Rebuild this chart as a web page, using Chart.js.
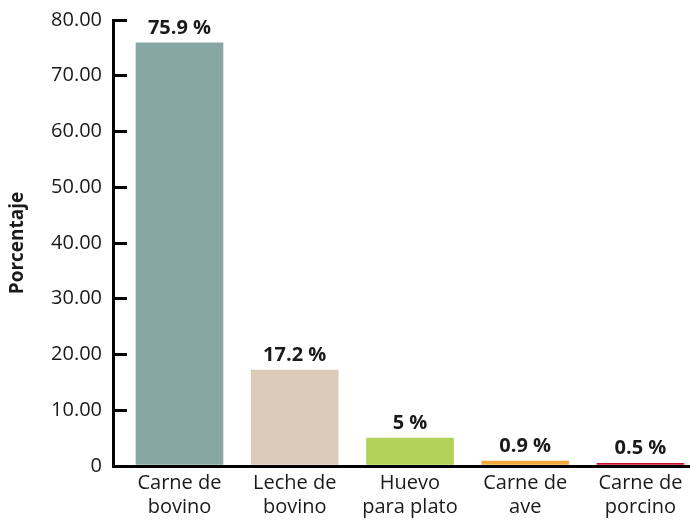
<!DOCTYPE html>
<html>
<head>
<meta charset="utf-8">
<script src="https://cdn.jsdelivr.net/npm/chart.js@4"></script>
<style>
  html, body { margin: 0; padding: 0; background: #fff; overflow: hidden; }
  #wrap { width: 690px; height: 521px; }
</style>
</head>
<body>
<div id="wrap"><canvas id="chart" width="690" height="521"></canvas></div>
<script>
// ── Data ─────────────────────────────────────────────────────────────────────
const categories = [
  ['Carne de', 'bovino'],
  ['Leche de', 'bovino'],
  ['Huevo', 'para plato'],
  ['Carne de', 'ave'],
  ['Carne de', 'porcino']
];
const values = [75.9, 17.2, 5, 0.9, 0.5];
const valueLabels = ['75.9 %', '17.2 %', '5 %', '0.9 %', '0.5 %'];
const barColors = ['#87a7a4', '#dccbb7', '#b1d158', '#f3a83b', '#c8102e'];
const yTicks = [0, 10, 20, 30, 40, 50, 60, 70, 80];

const FONT = '"Open Sans", "Liberation Sans", sans-serif';
const INK = '#1a1a1a';

// labels over each bar, placed from the bar element positions
const valueLabelPlugin = {
  id: 'valueLabels',
  afterDatasetsDraw(chart) {
    const ctx = chart.ctx;
    const meta = chart.getDatasetMeta(0);
    ctx.save();
    ctx.font = 'bold 20px ' + FONT;
    ctx.fillStyle = INK;
    ctx.textAlign = 'center';
    ctx.textBaseline = 'alphabetic';
    meta.data.forEach((bar, i) => {
      ctx.fillText(valueLabels[i], bar.x, bar.y - 9);
    });
    ctx.restore();
  }
};

new Chart(document.getElementById('chart'), {
  type: 'bar',
  data: {
    datasets: [{
      data: values.map((v, i) => ({ x: i, y: v })),
      backgroundColor: barColors,
      borderWidth: 0,
      barThickness: 87
    }]
  },
  options: {
    responsive: false,
    animation: false,
    layout: { padding: { top: 20, left: 0, right: 0, bottom: 0 } },
    plugins: { legend: { display: false }, tooltip: { enabled: false } },
    scales: {
      x: {
        type: 'linear',
        offset: false,
        min: -0.577,
        max: 4.43,
        afterBuildTicks: s => { s.ticks = categories.map((c, i) => ({ value: i })); },
        afterFit: s => { s.height = 55; s.paddingLeft = 0; s.paddingRight = 0; },
        grid: { display: false, offset: false },
        border: { display: true, color: '#000', width: 3 },
        ticks: {
          callback: v => categories[v],
          color: INK,
          font: { family: FONT, size: 20 },
          padding: -3,
          maxRotation: 0,
          autoSkip: false
        }
      },
      y: {
        min: 0,
        max: 80,
        afterBuildTicks: s => { s.ticks = yTicks.map(v => ({ value: v })); },
        afterFit: s => { s.width = 113; s.paddingTop = 0; s.paddingBottom = 0; },
        grid: {
          drawOnChartArea: false,
          drawTicks: true,
          tickLength: -14,
          color: '#000',
          lineWidth: 3
        },
        border: { display: true, color: '#000', width: 3 },
        ticks: {
          callback: v => v === 0 ? '0' : v.toFixed(2),
          color: INK,
          font: { family: FONT, size: 20 },
          padding: 25
        },
        title: {
          display: true,
          text: 'Porcentaje',
          color: INK,
          font: { family: FONT, size: 19, weight: 'bold' },
          padding: { top: 6, bottom: 0 }
        }
      }
    }
  },
  plugins: [valueLabelPlugin]
});
</script>
</body>
</html>
